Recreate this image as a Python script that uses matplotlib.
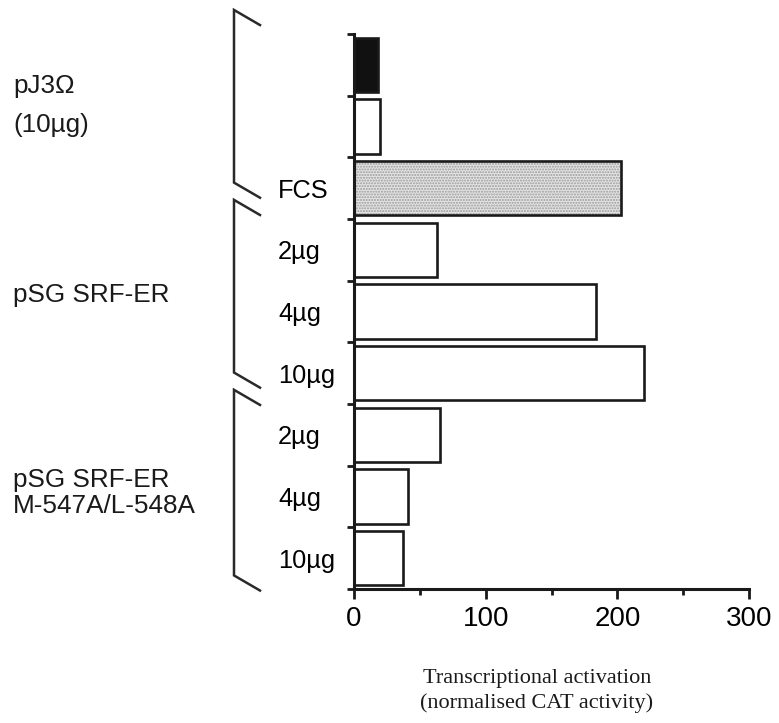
import matplotlib.pyplot as plt
from matplotlib.lines import Line2D
from matplotlib.transforms import blended_transform_factory

# CAT assay: one bar per transfection, top to bottom
row_labels = ["", "", "FCS", "2µg", "4µg", "10µg", "2µg", "4µg", "10µg"]
activity = [18, 20, 203, 63, 184, 220, 65, 41, 37]
fills = ["#111111", "white", "#dcdcdc", "white", "white", "white", "white", "white", "white"]

# plasmid groups: (label lines, first row, last row)
groups = [
    (["pJ3Ω", "(10µg)"], 0, 2),
    (["pSG SRF-ER"], 2, 5),
    (["pSG SRF-ER", "M-547A/L-548A"], 6, 8),
]

W, H = 779, 723
sans = "Liberation Sans"
serif = "Liberation Serif"

fig = plt.figure(figsize=(W / 100, H / 100), dpi=100)
ax = fig.add_axes([354 / W, 134 / H, 395 / W, 555 / H])

rows = list(range(len(activity)))
# stippled fill for the serum control sits under the outlined bars
ax.barh(rows[2], activity[2], height=0.88, color="#e4e4e4", edgecolor="#9a9a9a",
        hatch="......", linewidth=0, zorder=1)
ax.barh(rows, activity, height=0.88, color=[f if f != "#dcdcdc" else "none" for f in fills],
        edgecolor="#1a1a1a", linewidth=1.9, zorder=2)

ax.set_xlim(0, 300)
ax.set_ylim(len(activity) - 0.5, -0.5)

for side in ["top", "right"]:
    ax.spines[side].set_visible(False)
for side in ["left", "bottom"]:
    ax.spines[side].set_linewidth(2.2)
    ax.spines[side].set_color("#1a1a1a")

ax.set_xticks([0, 100, 200, 300])
ax.set_xticks([50, 150, 250], minor=True)
ax.tick_params(axis="x", which="major", length=7, width=2, pad=5, labelsize=20,
               color="#1a1a1a")
ax.tick_params(axis="x", which="minor", length=4, width=2, color="#1a1a1a")
for lab in ax.get_xticklabels():
    lab.set_family(sans)

# ticks between bars, labels at bar centres
ax.set_yticks([r - 0.5 for r in rows] + [rows[-1] + 0.5])
ax.set_yticklabels([])
ax.set_yticks(rows, minor=True)
ax.set_yticklabels(row_labels, minor=True)
ax.tick_params(axis="y", which="major", length=5, width=2, color="#1a1a1a")
ax.tick_params(axis="y", which="minor", length=0, pad=76 * 72 / 100, labelsize=18.3)
for lab in ax.get_yticklabels(minor=True):
    lab.set_ha("left")
    lab.set_family(sans)

# group brackets with slanted ends
tr = blended_transform_factory(ax.transAxes, ax.transData)
bx0, bx1 = (234 - 354) / 395, (260 - 354) / 395
slant = 0.245
spans = [(-0.89, 1.91), (2.19, 4.99), (5.27, 8.28)]
for y0, y1 in spans:
    xs = [bx1, bx0, bx0, bx1]
    ys = [y0 + slant, y0, y1, y1 + slant]
    ax.add_line(Line2D(xs, ys, transform=tr, color="#2a2a2a", lw=1.8,
                       clip_on=False, solid_joinstyle="miter"))

# group names on the left
label_baselines = [[93, 132], [302], [487, 513]]
for (lines, _, _), bases in zip(groups, label_baselines):
    for text, yb in zip(lines, bases):
        fig.text(13 / W, 1 - yb / H, text, fontsize=18.8, family=sans,
                 va="baseline", ha="left", color="#1a1a1a")

fig.text(537 / W, 1 - 683 / H, "Transcriptional activation", fontsize=16,
         family=serif, ha="center", va="baseline", color="#1a1a1a")
fig.text(537 / W, 1 - 708 / H, "(normalised CAT activity)", fontsize=16,
         family=serif, ha="center", va="baseline", color="#1a1a1a")

fig.savefig("out.png", dpi=100, facecolor="white")
